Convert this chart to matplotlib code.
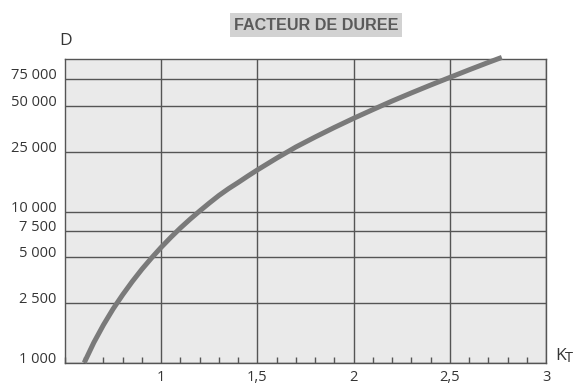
import matplotlib
matplotlib.use("Agg")
import matplotlib.pyplot as plt
from matplotlib.ticker import FixedLocator, FixedFormatter, NullLocator, MultipleLocator
from matplotlib.transforms import ScaledTranslation

# Duration factor curve: D (log scale) versus K_T
kt = [0.60, 0.65, 0.70, 0.75, 0.80, 0.85, 0.90, 0.95, 1.00, 1.05, 1.10,
      1.15, 1.20, 1.25, 1.30, 1.35, 1.40, 1.45, 1.50, 1.60, 1.70, 1.80,
      1.90, 2.00, 2.10, 2.20, 2.30, 2.40, 2.50, 2.60, 2.70, 2.77]
duree = [1000, 1360, 1780, 2270, 2820, 3450, 4160, 4940, 5810, 6760, 7800,
         8910, 10100, 11400, 12800, 14200, 15600, 17200, 18900, 22600, 26800,
         31200, 36100, 41500, 47400, 54000, 61100, 68900, 77400, 86900,
         97300, 105000]

y_ticks = [1000, 2500, 5000, 7500, 10000, 25000, 50000, 75000]
y_labels = ["1 000", "2 500", "5 000", "7 500", "10 000", "25 000",
            "50 000", "75 000"]
x_ticks = [1, 1.5, 2, 2.5, 3]
x_labels = ["1", "1,5", "2", "2,5", "3"]

title = "FACTEUR DE DUREE"

GRID = "#555555"
TEXT = "#353535"
FONT = "Open Sans"

fig = plt.figure(figsize=(5.76, 3.85), dpi=100)
ax = fig.add_axes([0.1128, 0.0579, 0.8352, 0.789])
ax.set_facecolor("#eaeaea")
ax.set_axisbelow(True)

ax.set_yscale("log")
ax.set_xlim(0.5, 3.0)
ax.set_ylim(1000, 102600)

ax.yaxis.set_major_locator(FixedLocator(y_ticks))
ax.yaxis.set_major_formatter(FixedFormatter(y_labels))
ax.yaxis.set_minor_locator(NullLocator())
ax.xaxis.set_major_locator(FixedLocator(x_ticks))
ax.xaxis.set_major_formatter(FixedFormatter(x_labels))
ax.xaxis.set_minor_locator(MultipleLocator(0.1))

ax.grid(True, which="major", color=GRID, lw=1.0)
for s in ax.spines.values():
    s.set_color(GRID)
    s.set_linewidth(1.0)

ax.tick_params(axis="y", length=0, pad=6, labelsize=10.5, labelcolor=TEXT)
ax.tick_params(axis="x", which="major", direction="in", length=0, pad=5.5,
               labelsize=10.5, labelcolor=TEXT)
ax.tick_params(axis="x", which="minor", direction="in", length=4,
               width=1.0, color=GRID)
for lab in ax.get_yticklabels() + ax.get_xticklabels():
    lab.set_family(FONT)
# y labels sit slightly above their grid lines
shift = ScaledTranslation(0, 5.5 / 100, fig.dpi_scale_trans)
for lab in ax.get_yticklabels():
    lab.set_transform(lab.get_transform() + shift)

ax.plot(kt, duree, color="#7a7a7a", lw=3.6, solid_capstyle="butt",
        solid_joinstyle="round", clip_on=False, zorder=3)

fig.text(66 / 576, 1 - 41 / 385, "D", ha="center", va="center",
         fontsize=12.5, family=FONT, color=TEXT)
fig.text(555 / 576, 1 - 356 / 385, "K", ha="left", va="center",
         fontsize=12.5, family=FONT, color=TEXT)
fig.text(565 / 576, 1 - 358.5 / 385, "T", ha="left", va="center",
         fontsize=10.5, family=FONT, color=TEXT)

fig.text(316 / 576, 1 - 25 / 385, title, ha="center", va="center",
         fontsize=11.6, fontweight="bold", family="Liberation Sans",
         color="#5a5a5a",
         bbox=dict(boxstyle="square,pad=0.25", fc="#d2d2d2", ec="none"))

fig.savefig("out.png", dpi=100)
